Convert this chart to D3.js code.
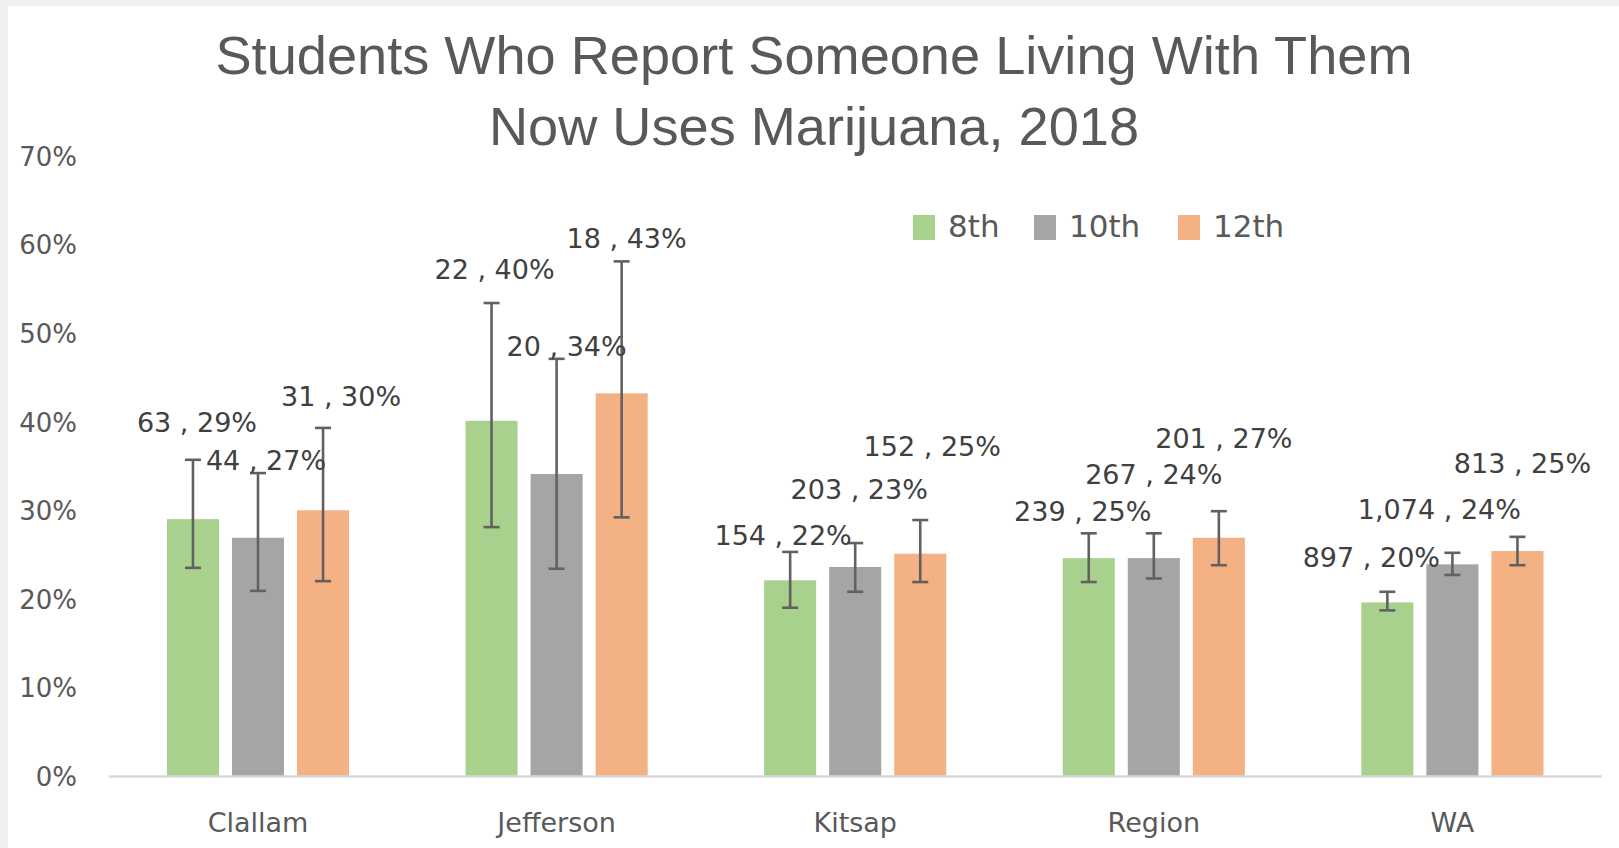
<!DOCTYPE html>
<html>
<head>
<meta charset="utf-8">
<script src="https://cdn.jsdelivr.net/npm/d3@7"></script>
<style>
  html, body { margin: 0; padding: 0; background: #efefef; }
  svg { display: block; }
</style>
</head>
<body>
<script>
// ---------- data ----------
const categories = ["Clallam", "Jefferson", "Kitsap", "Region", "WA"];
const seriesNames = ["8th", "10th", "12th"];
const seriesColors = ["#A9D18E", "#A5A5A5", "#F4B183"];

// bar heights (percent)
const values8 = [29.0, 40.1, 22.1, 24.6, 19.6];
const values10 = [26.9, 34.1, 23.6, 24.6, 23.9];
const values12 = [30.0, 43.2, 25.1, 26.9, 25.4];

// error bar bounds (percent)
const errLow8 = [23.5, 28.1, 19.0, 21.9, 18.7];
const errHigh8 = [35.7, 53.4, 25.3, 27.4, 20.8];
const errLow10 = [20.9, 23.4, 20.8, 22.3, 22.7];
const errHigh10 = [34.2, 47.1, 26.3, 27.4, 25.2];
const errLow12 = [22.0, 29.2, 21.9, 23.8, 23.8];
const errHigh12 = [39.3, 58.1, 28.9, 29.9, 27.0];

// sample sizes and reported percentages for labels
const counts8 = [63, 22, 154, 239, 897];
const counts10 = [44, 20, 203, 267, 1074];
const counts12 = [31, 18, 152, 201, 813];
const pct8 = [29, 40, 22, 25, 20];
const pct10 = [27, 34, 23, 24, 24];
const pct12 = [30, 43, 25, 27, 25];

// label anchor heights (in percent units) and horizontal nudges
const labelAt8 = [38.8, 56.1, 26.1, 28.8, 23.6];
const labelAt10 = [34.5, 47.4, 31.3, 33.0, 29.0];
const labelAt12 = [41.8, 59.6, 36.1, 37.0, 34.2];
const labelDx8 = [4, 3, -7, -6, -16];
const labelDx10 = [8, 10, 4, 0, -13];
const labelDx12 = [18, 5, 12, 5, 5];

const yTicks = [0, 10, 20, 30, 40, 50, 60, 70];
const titleLines = ["Students Who Report Someone Living With Them", "Now Uses Marijuana, 2018"];

// ---------- build rows ----------
const seriesData = [
  { name: "8th", values: values8, lo: errLow8, hi: errHigh8, n: counts8, pct: pct8, at: labelAt8, dx: labelDx8 },
  { name: "10th", values: values10, lo: errLow10, hi: errHigh10, n: counts10, pct: pct10, at: labelAt10, dx: labelDx10 },
  { name: "12th", values: values12, lo: errLow12, hi: errHigh12, n: counts12, pct: pct12, at: labelAt12, dx: labelDx12 }
];
const rows = [];
categories.forEach((c, i) => {
  seriesData.forEach((s, j) => {
    rows.push({ cat: c, series: s.name, si: j, v: s.values[i], lo: s.lo[i], hi: s.hi[i],
                n: s.n[i], pct: s.pct[i], at: s.at[i], dx: s.dx[i] });
  });
});

// ---------- layout ----------
const W = 1619, H = 848;
const plotLeft = 108.7, plotRight = 1601.7, plotBottom = 776, plotTop = 156;

const svg = d3.select("body").append("svg").attr("width", W).attr("height", H);
svg.append("rect").attr("x", 8).attr("y", 6).attr("width", W - 8).attr("height", H - 6).attr("fill", "#ffffff");

const x0 = d3.scaleBand().domain(categories).range([plotLeft, plotRight]).paddingInner(0.39).paddingOuter(0.195);
const x1 = d3.scaleBand().domain(seriesNames).range([0, x0.bandwidth()]).paddingInner(0.2);
const y = d3.scaleLinear().domain([0, 70]).range([plotBottom, plotTop]);
const color = d3.scaleOrdinal().domain(seriesNames).range(seriesColors);

const textColor = "#595959";

// title
svg.append("g").selectAll("text").data(titleLines).join("text")
  .attr("x", 814)
  .attr("y", (d, i) => i === 0 ? 74 : 144.5)
  .attr("text-anchor", "middle")
  .attr("font-family", "'Liberation Sans Narrow', 'Liberation Sans', Arial, sans-serif")
  .attr("font-size", 53)
  .attr("fill", textColor)
  .attr("textLength", (d, i) => i === 0 ? 1197 : 650)
  .attr("lengthAdjust", "spacingAndGlyphs")
  .text(d => d);

// y axis (labels only)
const yAxis = d3.axisLeft(y).tickValues(yTicks).tickSize(0).tickPadding(0).tickFormat(d => d + "%");
const yg = svg.append("g").attr("transform", "translate(77,0)").call(yAxis);
yg.select(".domain").remove();
yg.selectAll("text")
  .attr("font-family", "'DejaVu Sans', sans-serif")
  .attr("font-size", 26)
  .attr("fill", textColor)
  .attr("dy", "0.36em");

// x axis
const xAxis = d3.axisBottom(x0).tickSize(0).tickPadding(0);
const xg = svg.append("g").attr("transform", `translate(0,${plotBottom})`).call(xAxis);
xg.select(".domain").remove();
xg.selectAll("text")
  .attr("font-family", "'DejaVu Sans', sans-serif")
  .attr("font-size", 27)
  .attr("fill", textColor)
  .attr("y", 56)
  .attr("dy", 0);

// bars
const groups = svg.append("g").selectAll("g").data(categories).join("g")
  .attr("transform", d => `translate(${x0(d)},0)`);

groups.selectAll("rect").data(c => rows.filter(r => r.cat === c)).join("rect")
  .attr("x", d => x1(d.series))
  .attr("y", d => y(d.v))
  .attr("width", x1.bandwidth())
  .attr("height", d => y(0) - y(d.v))
  .attr("fill", d => color(d.series));

// baseline
svg.append("line")
  .attr("x1", plotLeft).attr("x2", plotRight)
  .attr("y1", plotBottom + 0.5).attr("y2", plotBottom + 0.5)
  .attr("stroke", "#d9d9d9").attr("stroke-width", 2.6);

// error bars
const errColor = "#616161";
const capHalf = 8;
const eg = svg.append("g");
rows.forEach(r => {
  const cx = x0(r.cat) + x1(r.series) + x1.bandwidth() / 2;
  eg.append("line").attr("x1", cx).attr("x2", cx).attr("y1", y(r.lo)).attr("y2", y(r.hi))
    .attr("stroke", errColor).attr("stroke-width", 2.6);
  [r.lo, r.hi].forEach(v => {
    eg.append("line").attr("x1", cx - capHalf).attr("x2", cx + capHalf).attr("y1", y(v)).attr("y2", y(v))
      .attr("stroke", errColor).attr("stroke-width", 2.6);
  });
});

// data labels
const fmtN = d3.format(",");
svg.append("g").selectAll("text").data(rows).join("text")
  .attr("x", d => x0(d.cat) + x1(d.series) + x1.bandwidth() / 2 + d.dx)
  .attr("y", d => y(d.at))
  .attr("text-anchor", "middle")
  .attr("font-family", "'DejaVu Sans', sans-serif")
  .attr("font-size", 27)
  .attr("fill", "#404040")
  .text(d => `${fmtN(d.n)} , ${d.pct}%`);

// legend
const legendX = [913, 1034, 1178];
const lg = svg.append("g").selectAll("g").data(seriesNames).join("g")
  .attr("transform", (d, i) => `translate(${legendX[i]},215)`);
lg.append("rect").attr("width", 22).attr("height", 25).attr("fill", d => color(d));
lg.append("text").attr("x", 35).attr("y", 22)
  .attr("font-family", "'DejaVu Sans', sans-serif")
  .attr("font-size", 31)
  .attr("fill", textColor)
  .text(d => d);
</script>
</body>
</html>
